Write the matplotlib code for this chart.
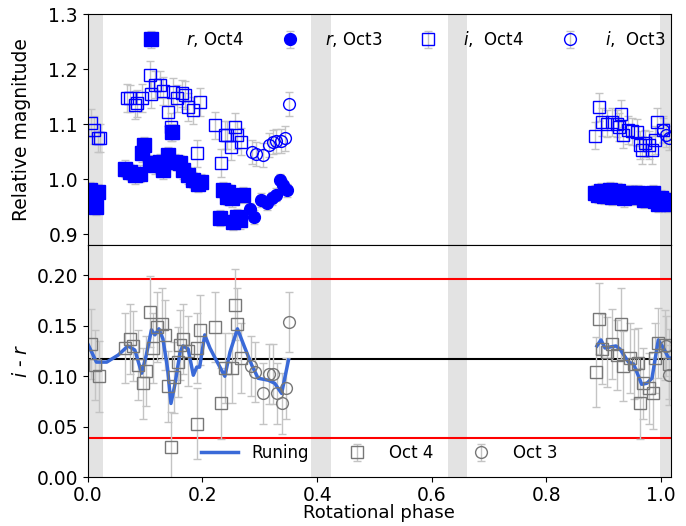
import numpy as np
import matplotlib
matplotlib.use("Agg")
from matplotlib import pyplot as plt

plt.rcParams["font.family"] = ["DejaVu Sans"]
plt.rcParams["font.size"] = 13.5

# ---- relative magnitude, r and i filters ----
r4_phase = [0.003, 0.012, 0.015, 0.018, 0.065, 0.073, 0.082, 0.091, 0.094, 0.098,
            0.108, 0.117, 0.126, 0.131, 0.140, 0.147, 0.152, 0.161, 0.166, 0.175,
            0.184, 0.192, 0.198, 0.230, 0.236, 0.242, 0.245, 0.251, 0.254, 0.260,
            0.265, 0.271,
            0.885, 0.890, 0.895, 0.900, 0.905, 0.910, 0.915, 0.920, 0.925, 0.930,
            0.935, 0.940, 0.945, 0.950, 0.955, 0.960, 0.965, 0.970, 0.975, 0.980,
            0.985, 0.990, 0.995, 1.000, 1.004, 1.008, 1.012, 1.016]
r4_mag = [0.980, 0.971, 0.950, 0.977, 1.019, 1.013, 1.007, 1.010, 1.047, 1.062,
          1.029, 1.025, 1.031, 1.016, 1.044, 1.085, 1.031, 1.029, 1.016, 1.007,
          0.998, 0.992, 0.995, 0.929, 0.980, 0.968, 0.977, 0.965, 0.922, 0.931,
          0.925, 0.971,
          0.975, 0.972, 0.978, 0.970, 0.975, 0.980, 0.968, 0.975, 0.978, 0.972,
          0.965, 0.970, 0.975, 0.972, 0.968, 0.975, 0.970, 0.962, 0.965, 0.970,
          0.975, 0.960, 0.955, 0.965, 0.958, 0.962, 0.955, 0.960]

r3_phase = [0.283, 0.290, 0.302, 0.312, 0.321, 0.329, 0.335, 0.341, 0.347]
r3_mag = [0.945, 0.931, 0.962, 0.956, 0.965, 0.972, 0.998, 0.989, 0.980]

i4_phase = [0.006, 0.011, 0.017, 0.021, 0.068, 0.073, 0.082, 0.085, 0.094, 0.108,
            0.111, 0.117, 0.126, 0.131, 0.140, 0.145, 0.149, 0.155, 0.164, 0.169,
            0.175, 0.184, 0.190, 0.195, 0.222, 0.233, 0.239, 0.242, 0.250, 0.257,
            0.261, 0.268,
            0.885, 0.891, 0.896, 0.905, 0.914, 0.923, 0.926, 0.930, 0.934, 0.943,
            0.950, 0.957, 0.963, 0.966, 0.972, 0.978, 0.984, 0.990, 0.992, 1.004]
i4_mag = [1.102, 1.089, 1.075, 1.075, 1.148, 1.147, 1.135, 1.138, 1.148, 1.190,
          1.154, 1.172, 1.172, 1.160, 1.122, 1.095, 1.159, 1.147, 1.156, 1.153,
          1.131, 1.125, 1.047, 1.140, 1.098, 1.029, 1.080, 1.080, 1.059, 1.095,
          1.080, 1.068,
          1.079, 1.131, 1.104, 1.101, 1.104, 1.101, 1.095, 1.119, 1.081, 1.089,
          1.087, 1.085, 1.062, 1.053, 1.065, 1.062, 1.053, 1.071, 1.104, 1.090]

i3_phase = [0.286, 0.293, 0.306, 0.316, 0.323, 0.329, 0.337, 0.344, 0.351,
            1.003, 1.008, 1.013]
i3_mag = [1.050, 1.045, 1.044, 1.062, 1.067, 1.069, 1.069, 1.074, 1.136,
          1.090, 1.080, 1.075]

# ---- colour index i - r ----
c4_phase = [0.006, 0.012, 0.019, 0.065, 0.073, 0.079, 0.088, 0.097, 0.102, 0.108,
            0.114, 0.120, 0.129, 0.134, 0.139, 0.145, 0.151, 0.157, 0.161, 0.166,
            0.175, 0.190, 0.190, 0.195, 0.222, 0.233, 0.239, 0.251, 0.257, 0.261,
            0.268,
            0.887, 0.891, 0.896, 0.905, 0.914, 0.923, 0.930, 0.934, 0.945, 0.952,
            0.960, 0.963, 0.969, 0.978, 0.985, 0.990, 0.995, 1.007, 1.013]
c4_val = [0.132, 0.111, 0.100, 0.128, 0.137, 0.130, 0.111, 0.093, 0.105, 0.164,
          0.128, 0.149, 0.152, 0.141, 0.090, 0.030, 0.099, 0.114, 0.131, 0.137,
          0.125, 0.053, 0.128, 0.146, 0.149, 0.073, 0.108, 0.108, 0.171, 0.152,
          0.118,
          0.104, 0.157, 0.127, 0.124, 0.132, 0.121, 0.152, 0.110, 0.118, 0.112,
          0.113, 0.073, 0.093, 0.088, 0.083, 0.118, 0.133, 0.131, 0.112]

c3_phase = [0.284, 0.291, 0.306, 0.316, 0.323, 0.330, 0.339, 0.346, 0.351,
            1.009, 1.014]
c3_val = [0.110, 0.104, 0.083, 0.102, 0.102, 0.083, 0.073, 0.088, 0.154,
          0.130, 0.101]

run_phase_a = [0.000, 0.015, 0.033, 0.053, 0.070, 0.082, 0.094, 0.102, 0.111, 0.117,
               0.124, 0.131, 0.139, 0.145, 0.152, 0.161, 0.166, 0.175, 0.184, 0.190,
               0.195, 0.204, 0.213, 0.222, 0.239, 0.248, 0.261, 0.274, 0.286, 0.297,
               0.315, 0.326, 0.338, 0.350]
run_val_a = [0.132, 0.114, 0.114, 0.121, 0.130, 0.126, 0.103, 0.121, 0.146, 0.141,
             0.147, 0.137, 0.108, 0.073, 0.092, 0.124, 0.130, 0.127, 0.101, 0.109,
             0.109, 0.141, 0.128, 0.118, 0.100, 0.124, 0.147, 0.128, 0.111, 0.098,
             0.096, 0.093, 0.083, 0.116]
run_phase_b = [0.888, 0.895, 0.902, 0.911, 0.921, 0.928, 0.943, 0.952, 0.966, 0.975,
               0.984, 0.995, 1.004, 1.013, 1.017]
run_val_b = [0.130, 0.136, 0.128, 0.129, 0.130, 0.127, 0.114, 0.112, 0.092, 0.093,
             0.098, 0.136, 0.128, 0.118, 0.118]

mean_color = 0.117
color_limits = [0.039, 0.196]
gap_spans = [(0.0, 0.026), (0.389, 0.424), (0.628, 0.661), (0.998, 1.02)]

fig = plt.figure(figsize=(6.86, 5.26), dpi=100)
ax1 = fig.add_axes([0.128, 0.534, 0.850, 0.439])
ax2 = fig.add_axes([0.128, 0.093, 0.850, 0.441], sharex=ax1)

eb = dict(ecolor="#c4c4c4", elinewidth=1, capsize=3, linestyle="none")

for ax in (ax1, ax2):
    for a, b in gap_spans:
        ax.axvspan(a, b, color="#e3e3e3", lw=0, zorder=0)

h1 = ax1.errorbar(r4_phase, r4_mag, yerr=0.015, fmt="s", ms=9.5, mfc="blue", mec="blue", **eb)
h2 = ax1.errorbar(r3_phase, r3_mag, yerr=0.012, fmt="o", ms=8.5, mfc="blue", mec="blue", **eb)
h3 = ax1.errorbar(i4_phase, i4_mag, yerr=0.025, fmt="s", ms=8.5, mfc="none", mec="blue", mew=1, **eb)
h4 = ax1.errorbar(i3_phase, i3_mag, yerr=0.022, fmt="o", ms=8.5, mfc="none", mec="blue", mew=1, **eb)
ax1.legend([h1, h2, h3, h4], [r"$r$, Oct4", r"$r$, Oct3", r"$i$,  Oct4", r"$i$,  Oct3"],
           loc="upper center", ncol=4, frameon=False, fontsize=12,
           bbox_to_anchor=(0.535, 1.0), columnspacing=1.75, handletextpad=1.1)
ax1.set_ylim(0.88, 1.3)
ax1.set_yticks([0.9, 1.0, 1.1, 1.2, 1.3])
ax1.set_ylabel("Relative magnitude")
ax1.tick_params(labelbottom=False)

ax2.axhline(color_limits[0], color="red", lw=1.5)
ax2.axhline(color_limits[1], color="red", lw=1.5)
ax2.axhline(mean_color, color="black", lw=1.5)
g1 = ax2.errorbar(c4_phase, c4_val, yerr=0.035, fmt="s", ms=8.5, mfc="none", mec="#777777", mew=1, **eb)
g2 = ax2.errorbar(c3_phase, c3_val, yerr=0.03, fmt="o", ms=8.5, mfc="none", mec="#777777", mew=1, **eb)
ln, = ax2.plot(run_phase_a, run_val_a, color="#3a6ad8", lw=2.5)
ax2.plot(run_phase_b, run_val_b, color="#3a6ad8", lw=2.5)
ax2.legend([ln, g1, g2], ["Runing", "Oct 4", "Oct 3"], loc="lower center", ncol=3,
           frameon=False, fontsize=12, bbox_to_anchor=(0.5, 0.0), columnspacing=1.8,
           handlelength=2.2, handletextpad=0.8)
ax2.set_ylim(0, 0.23)
ax2.set_yticks([0.0, 0.05, 0.10, 0.15, 0.20])
ax2.set_xlim(0, 1.017)
ax2.tick_params(axis="x", pad=3)
ax2.set_xlabel("Rotational phase", labelpad=-1, fontsize=13)
ax2.set_ylabel(r"$i$ - $r$")

for ax in (ax1, ax2):
    ax.yaxis.set_label_coords(-0.098, 0.5)

fig.savefig("out.png", dpi=100)
